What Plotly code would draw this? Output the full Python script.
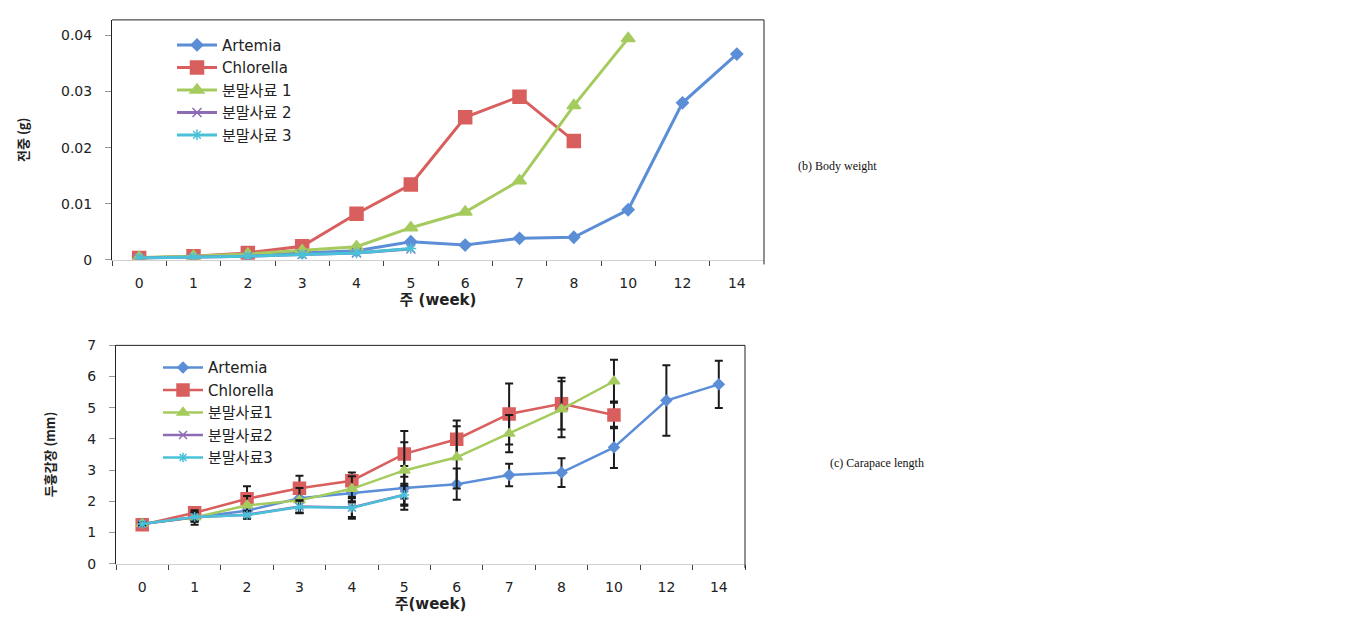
import plotly.graph_objects as go

weeks = ["0", "1", "2", "3", "4", "5", "6", "7", "8", "10", "12", "14"]

names_top = ["Artemia", "Chlorella", "분말사료 1", "분말사료 2", "분말사료 3"]
names_bot = ["Artemia", "Chlorella", "분말사료1", "분말사료2", "분말사료3"]

# Body weight (g)
bw_artemia = [0.0003, 0.0005, 0.0008, 0.0012, 0.0016, 0.0032, 0.0026, 0.0038, 0.0040, 0.0089, 0.0280, 0.0367]
bw_chlorella = [0.0003, 0.0006, 0.0012, 0.0024, 0.0082, 0.0134, 0.0254, 0.0291, 0.0212]
bw_feed1 = [0.0004, 0.0006, 0.0010, 0.0016, 0.0023, 0.0057, 0.0085, 0.0141, 0.0275, 0.0395]
bw_feed2 = [0.0003, 0.0004, 0.0006, 0.0009, 0.0012, 0.0019]
bw_feed3 = [0.0003, 0.0004, 0.0006, 0.0009, 0.0012, 0.0020]

# Carapace length (mm) and error
cl_artemia = [1.28, 1.50, 1.70, 2.10, 2.26, 2.43, 2.55, 2.84, 2.92, 3.73, 5.23, 5.75]
cl_artemia_err = [0.05, 0.12, 0.15, 0.30, 0.30, 0.70, 0.50, 0.36, 0.46, 0.66, 1.13, 0.76]
cl_chlorella = [1.25, 1.63, 2.08, 2.42, 2.66, 3.52, 3.99, 4.80, 5.13, 4.77]
cl_chlorella_err = [0.05, 0.12, 0.40, 0.40, 0.26, 0.73, 0.60, 0.98, 0.83, 0.43]
cl_feed1 = [1.28, 1.48, 1.87, 2.03, 2.40, 2.99, 3.41, 4.17, 4.95, 5.85]
cl_feed1_err = [0.05, 0.23, 0.30, 0.40, 0.40, 0.90, 1.00, 0.60, 0.90, 0.69]
cl_feed2 = [1.27, 1.49, 1.57, 1.83, 1.80, 2.21]
cl_feed2_err = [0.05, 0.15, 0.12, 0.20, 0.30, 0.35]
cl_feed3 = [1.27, 1.50, 1.56, 1.82, 1.79, 2.20]
cl_feed3_err = [0.05, 0.15, 0.12, 0.20, 0.35, 0.30]

colors = ["#5B8ED6", "#D95F5F", "#A5CB5F", "#8E6BB5", "#4BC0D9"]
symbols = ["diamond", "square", "triangle-up", "x-thin", "asterisk"]

OFF = 8  # page body margin
W, H = 1342, 627
fig = go.Figure()

top_series = [bw_artemia, bw_chlorella, bw_feed1, bw_feed2, bw_feed3]
top_sizes = [9, 13, 12, 9, 9]
for i, ys in enumerate(top_series):
    fig.add_trace(go.Scatter(
        x=weeks[:len(ys)], y=ys, name=names_top[i], mode="lines+markers",
        line=dict(color=colors[i], width=3),
        marker=dict(symbol=symbols[i], size=top_sizes[i], color=colors[i],
                    line=dict(color=colors[i], width=1.5)),
        xaxis="x", yaxis="y", legend="legend", legendgroup="t%d" % i,
    ))

bot_series = [(cl_artemia, cl_artemia_err), (cl_chlorella, cl_chlorella_err),
              (cl_feed1, cl_feed1_err), (cl_feed2, cl_feed2_err), (cl_feed3, cl_feed3_err)]
bot_sizes = [8, 12, 10, 8, 8]
for i in range(5):
    ys, es = bot_series[i]
    fig.add_trace(go.Scatter(
        x=weeks[:len(ys)], y=ys, name=names_bot[i], mode="lines+markers",
        line=dict(color=colors[i], width=2.5),
        marker=dict(symbol=symbols[i], size=bot_sizes[i], color=colors[i],
                    line=dict(color=colors[i], width=1.5)),
        error_y=dict(type="data", array=es, visible=True, color="#1a1a1a",
                     thickness=2, width=4),
        xaxis="x2", yaxis="y2", legend="legend2", legendgroup="b%d" % i,
    ))

tick_font = dict(family="DejaVu Sans", size=14, color="#222222")
title_font = dict(family="DejaVu Sans, Noto Sans CJK KR", size=15, color="#222")
legend_font = dict(family="DejaVu Sans, Noto Sans CJK KR", size=15, color="#222")


def px_x(p):
    return (p - OFF) / W


def px_y(p):
    return 1 - (p - OFF) / H


fig.update_layout(
    width=W, height=H, margin=dict(l=0, r=0, t=0, b=0),
    paper_bgcolor="white", plot_bgcolor="white", showlegend=True,
    xaxis=dict(domain=[px_x(112), px_x(764)], type="category",
               categoryorder="array", categoryarray=weeks, range=[-0.5, 11.5],
               tickson="boundaries", ticks="outside", ticklen=5, tickcolor="#444",
               showline=True, linecolor="#d0d0d0", linewidth=1, showgrid=False,
               tickfont=tick_font, ticklabelstandoff=11,
               title=dict(text="<b>주 (week)</b>", font=title_font, standoff=0),
               anchor="y"),
    yaxis=dict(domain=[px_y(258), px_y(12)], range=[0, 0.0428],
               tickvals=[0, 0.01, 0.02, 0.03, 0.04], ticktext=["0", "0.01", "0.02", "0.03", "0.04"],
               ticks="outside", ticklen=6, tickcolor="#999", showline=True, linecolor="#222",
               linewidth=1, showgrid=False, zeroline=False, tickfont=tick_font,
               ticklabelstandoff=10,
               title=dict(text="<b>전중 (g)</b>", font=dict(family="Noto Sans CJK KR", size=13, color="#222"), standoff=29),
               anchor="x"),
    xaxis2=dict(domain=[px_x(116), px_x(745)], type="category",
                categoryorder="array", categoryarray=weeks, range=[-0.5, 11.5],
                tickson="boundaries", ticks="outside", ticklen=5, tickcolor="#444",
                showline=True, linecolor="#d0d0d0", linewidth=1, showgrid=False,
                tickfont=tick_font, ticklabelstandoff=11,
                title=dict(text="<b>주(week)</b>", font=title_font, standoff=0),
                anchor="y2"),
    yaxis2=dict(domain=[px_y(570), px_y(346)], range=[0, 7], dtick=1,
                ticks="outside", ticklen=6, tickcolor="#999", showline=True, linecolor="#222",
                linewidth=1, showgrid=False, zeroline=False, tickfont=tick_font,
                ticklabelstandoff=10,
                title=dict(text="<b>두흉갑장 (mm)</b>", font=dict(family="Noto Sans CJK KR", size=13, color="#222"), standoff=28),
                anchor="x2"),
    legend=dict(x=px_x(172), y=px_y(21), xanchor="left", yanchor="top",
                bgcolor="rgba(0,0,0,0)", font=legend_font,
                tracegroupgap=0, itemwidth=40),
    legend2=dict(x=px_x(158), y=px_y(352), xanchor="left", yanchor="top",
                 bgcolor="rgba(0,0,0,0)", font=legend_font,
                 tracegroupgap=0, itemwidth=40),
    shapes=[
        dict(type="line", xref="x domain", yref="y domain", x0=0, x1=1, y0=1, y1=1,
             line=dict(color="#222", width=1)),
        dict(type="line", xref="x domain", yref="y domain", x0=1, x1=1, y0=-0.02, y1=1,
             line=dict(color="#222", width=1)),
        dict(type="line", xref="x2 domain", yref="y2 domain", x0=0, x1=1, y0=1, y1=1,
             line=dict(color="#222", width=1)),
        dict(type="line", xref="x2 domain", yref="y2 domain", x0=1, x1=1, y0=-0.02, y1=1,
             line=dict(color="#222", width=1)),
    ],
    annotations=[
        dict(text="(b) Body weight", x=px_x(796), y=px_y(162), xref="paper", yref="paper",
             xanchor="left", yanchor="middle", showarrow=False,
             font=dict(family="Liberation Serif", size=12, color="#111")),
        dict(text="(c) Carapace length", x=px_x(828), y=px_y(467), xref="paper", yref="paper",
             xanchor="left", yanchor="middle", showarrow=False,
             font=dict(family="Liberation Serif", size=12, color="#111")),
    ],
)

fig.write_html("out.html")
